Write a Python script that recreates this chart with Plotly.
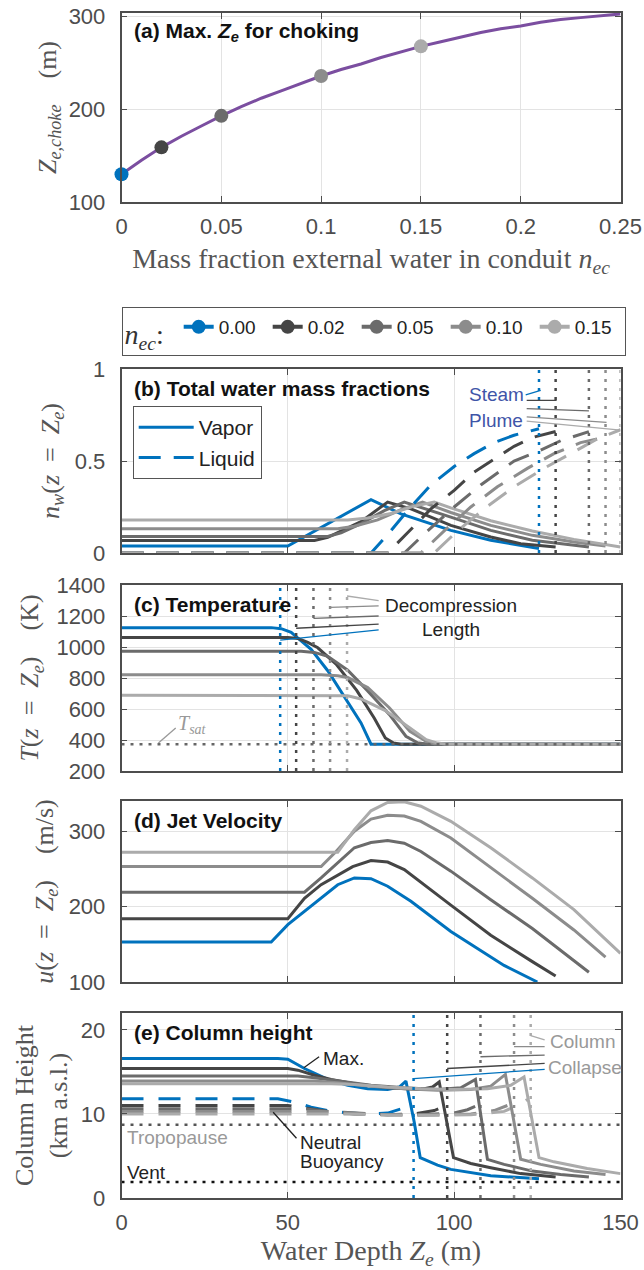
import plotly.graph_objects as go

W, H = 644, 1270

# ---------------- data ----------------
NEC = [0.00, 0.02, 0.05, 0.10, 0.15]
NEC_LABELS = ['0.00', '0.02', '0.05', '0.10', '0.15']
COLORS = ['#0072BD', '#454545', '#6b6b6b', '#8c8c8c', '#ababab']
PURPLE = '#7B4EA0'

# (a) max Ze for choking
CURVE_NEC = [0.00, 0.01, 0.02, 0.03, 0.04, 0.05, 0.06, 0.07, 0.08, 0.09, 0.10, 0.11, 0.12,
             0.13, 0.14, 0.15, 0.16, 0.17, 0.18, 0.19, 0.20, 0.21, 0.22, 0.23, 0.24, 0.25]
CURVE_Z = [130, 145, 159, 171, 182, 193, 203, 212, 220, 228, 236, 243, 249,
           256, 262, 268, 273, 278, 283, 287, 290, 294, 297, 299, 301, 303]
POINT_Z = [130, 159, 193, 236, 268]

# (b) water mass fractions
VAP_X = [[0, 50, 75, 84, 99, 111, 125.5],
         [0, 58, 62, 72, 80, 87, 99, 111, 120, 130.5],
         [0, 62, 66, 72, 79, 85, 99, 111, 123.5, 140.5],
         [0, 65, 70, 77, 84, 90.5, 99, 111, 123.5, 136, 145.5],
         [0, 68, 74, 81, 88, 94, 99, 111, 123.5, 136, 150]]
VAP_Y = [[0.038, 0.038, 0.29, 0.213, 0.123, 0.069, 0.024],
         [0.068, 0.068, 0.085, 0.17, 0.277, 0.24, 0.15, 0.087, 0.05, 0.033],
         [0.09, 0.09, 0.11, 0.16, 0.23, 0.277, 0.195, 0.123, 0.069, 0.033],
         [0.132, 0.132, 0.145, 0.18, 0.235, 0.277, 0.22, 0.15, 0.096, 0.06, 0.038],
         [0.18, 0.18, 0.19, 0.215, 0.255, 0.277, 0.245, 0.175, 0.12, 0.074, 0.033]]
LIQ_X = [[0, 75, 80, 86, 93, 100, 106, 112, 118, 125.5],
         [0, 80, 86, 93, 100, 106, 112, 118, 124, 130.5],
         [0, 85, 92, 100, 108, 118, 125, 132, 140.5],
         [0, 90, 97, 105, 113, 122, 130, 138, 145.5],
         [0, 94, 101, 109, 118, 127, 135, 143, 150]]
LIQ_Y = [[0, 0, 0.10, 0.23, 0.37, 0.47, 0.54, 0.60, 0.64, 0.675],
         [0, 0, 0.11, 0.24, 0.34, 0.44, 0.51, 0.58, 0.63, 0.66],
         [0, 0, 0.12, 0.25, 0.37, 0.50, 0.55, 0.61, 0.66],
         [0, 0, 0.12, 0.25, 0.36, 0.46, 0.54, 0.60, 0.63],
         [0, 0, 0.12, 0.24, 0.36, 0.46, 0.54, 0.62, 0.67]]
STEAM_X = [125.5, 130.5, 140.5, 145.5, 150]

# (c) temperature
T_X = [[0, 45, 48, 51, 54, 57, 62, 68, 72, 75, 150],
       [0, 50, 53, 56, 59, 64.5, 70.7, 76, 79.3, 81.8, 84, 150],
       [0, 54, 58, 62, 68, 74, 80.5, 85.5, 89, 92, 150],
       [0, 60, 65, 68, 74, 80.5, 86.7, 91.6, 94, 150],
       [0, 64, 68, 72, 79.3, 86.7, 91.6, 95, 98, 150]]
T_Y = [[1125, 1125, 1118, 1095, 1040, 985, 847, 640, 510, 373, 373],
       [1062, 1062, 1055, 1030, 995, 890, 720, 540, 413, 380, 373, 373],
       [973, 973, 965, 940, 850, 717, 565, 424, 382, 373, 373],
       [821, 821, 815, 803, 738, 608, 456, 391, 376, 373],
       [689, 689, 685, 665, 590, 478, 402, 380, 373, 373]]
T_SAT = 373
DECOMP_X = [47.7, 52.5, 57.7, 62.7, 67.8]

# (d) jet velocity
U_X = [[0, 45, 50, 55, 60, 65, 70, 75, 80, 87, 99, 115, 125],
       [0, 50, 55, 60, 69.5, 75, 80, 85, 99, 111, 123.5, 130.5],
       [0, 55, 60, 64.5, 70, 75, 80, 85, 90, 99, 111, 123.5, 140.5],
       [0, 60, 64.5, 70, 75, 80, 85, 90, 99, 111, 123.5, 136, 145.5],
       [0, 65, 70, 75, 80, 85, 90, 99, 111, 123.5, 136, 150]]
U_Y = [[153, 153, 176, 194, 212, 229, 238, 237, 227, 207, 167, 122, 100],
       [184, 184, 211, 229, 253, 261, 259, 249, 202, 162, 127, 108],
       [219, 219, 238, 256, 278, 285, 287.5, 284, 273, 247, 209, 171, 113],
       [253, 253, 273, 300, 316, 321, 320, 313, 291, 252, 211, 169, 133],
       [272, 272, 302, 327, 338, 339, 333, 313, 278, 238, 196, 138]]

# (e) column height
HMAX_X = [[0, 47, 50, 55, 62, 68, 74, 80, 83.5, 85.5, 88, 89.8, 95, 99, 111, 125.5],
          [0, 50, 53, 58, 63, 70, 80, 90, 93.5, 95.5, 99.8, 105, 111, 120, 130.5],
          [0, 53, 58, 65, 75, 85, 95, 102, 106.4, 110, 115, 123.5, 132, 140.5],
          [0, 58, 65, 75, 85, 95, 105, 111, 115.4, 120, 126, 136, 145.5],
          [0, 63, 70, 80, 90, 100, 110, 117, 121, 125.5, 130, 140, 150]]
HMAX_Y = [[16.6, 16.6, 16.5, 15.4, 14.1, 13.4, 13.0, 12.9, 13.2, 13.9, 9.0, 4.8, 3.9, 3.4, 2.65, 2.3],
          [15.4, 15.4, 15.2, 14.6, 14.1, 13.6, 13.1, 12.9, 13.2, 13.8, 4.8, 4.1, 3.6, 2.9, 2.5],
          [14.5, 14.5, 14.3, 13.9, 13.4, 13.1, 12.9, 13.1, 14.1, 4.6, 4.0, 3.2, 2.8, 2.5],
          [13.9, 13.9, 13.7, 13.3, 13.0, 12.8, 12.9, 13.3, 14.7, 4.6, 4.0, 3.2, 2.8],
          [13.6, 13.6, 13.5, 13.2, 13.0, 12.9, 13.0, 13.4, 14.4, 4.8, 4.3, 3.5, 2.9]]
HNB_X = [[0, 47, 52, 57, 62, 68, 75, 80, 84, 86],
         [0, 50, 55, 62, 70, 80, 88, 94, 97],
         [0, 55, 62, 70, 80, 90, 100, 104, 107],
         [0, 60, 68, 80, 95, 105, 112, 116],
         [0, 65, 75, 90, 105, 115, 119, 122]]
HNB_Y = [[11.8, 11.8, 11.4, 10.8, 10.4, 10.1, 10.0, 10.1, 10.6, 11.2],
         [11.0, 11.0, 10.7, 10.3, 10.0, 9.9, 10.0, 10.4, 10.9],
         [10.6, 10.6, 10.3, 10.1, 9.9, 9.9, 10.1, 10.5, 11.0],
         [10.3, 10.3, 10.1, 9.9, 9.9, 10.0, 10.4, 11.0],
         [10.0, 10.0, 9.9, 9.8, 9.9, 10.3, 11.0, 11.7]]
COLLAPSE_X = [87.8, 97.9, 107.9, 118, 123]
TROPOPAUSE = 8.7
VENT = 1.9

# ---------------- layout helpers ----------------
SANS = 'Liberation Sans, Arial, sans-serif'
SERIF = 'Liberation Serif, Times New Roman, serif'
AXC = '#4d4d4d'
TITC = '#555555'
XDOM = [121.5 / W, 620.5 / W]
NB = '\u00a0'


def ydom(top, bottom):
    return [1 - bottom / H, 1 - top / H]


def axis(**kw):
    d = dict(showline=True, linecolor=AXC, linewidth=1.5, mirror='ticks', ticks='inside',
             ticklen=6, tickwidth=1.3, tickcolor=AXC, showgrid=True, gridcolor='#e3e3e3',
             gridwidth=1, zeroline=False, automargin=False,
             tickfont=dict(family=SANS, size=22, color=AXC))
    d.update(kw)
    return d


def ytitle(text, standoff):
    return dict(text=text, standoff=standoff, font=dict(family=SERIF, size=26, color=TITC))


def xtitle(text, standoff):
    return dict(text=text, standoff=standoff, font=dict(family=SERIF, size=28, color=TITC))


fig = go.Figure()
DOT = '3px,6px'

# (a)
fig.add_trace(go.Scatter(x=CURVE_NEC, y=CURVE_Z, mode='lines', line=dict(color=PURPLE, width=3),
                         showlegend=False, xaxis='x', yaxis='y'))
for i in range(5):
    fig.add_trace(go.Scatter(x=[NEC[i]], y=[POINT_Z[i]], mode='lines+markers', name=NEC_LABELS[i],
                             marker=dict(color=COLORS[i], size=14), line=dict(color=COLORS[i], width=4),
                             legend='legend', xaxis='x', yaxis='y', cliponaxis=False))

# (b)
for i in range(5):
    fig.add_trace(go.Scatter(x=VAP_X[i], y=VAP_Y[i], mode='lines', line=dict(color=COLORS[i], width=3),
                             name='Vapor', legend='legend2', showlegend=(i == 0),
                             xaxis='x2', yaxis='y2'))
for i in range(5):
    fig.add_trace(go.Scatter(x=LIQ_X[i], y=LIQ_Y[i], mode='lines',
                             line=dict(color=COLORS[i], width=3, dash='22px,13px'),
                             name='Liquid', legend='legend2', showlegend=(i == 0),
                             xaxis='x2', yaxis='y2'))
for i in range(5):
    fig.add_trace(go.Scatter(x=[STEAM_X[i], STEAM_X[i]], y=[0, 1], mode='lines',
                             line=dict(color=COLORS[i], width=2.5, dash=DOT),
                             showlegend=False, xaxis='x2', yaxis='y2'))

# (c)
for i in range(5):
    fig.add_trace(go.Scatter(x=T_X[i], y=T_Y[i], mode='lines', line=dict(color=COLORS[i], width=3),
                             showlegend=False, xaxis='x3', yaxis='y3'))
fig.add_trace(go.Scatter(x=[0, 150], y=[T_SAT, T_SAT], mode='lines',
                         line=dict(color='#666666', width=2.5, dash=DOT),
                         showlegend=False, xaxis='x3', yaxis='y3'))
for i in range(5):
    fig.add_trace(go.Scatter(x=[DECOMP_X[i], DECOMP_X[i]], y=[200, 1400], mode='lines',
                             line=dict(color=COLORS[i], width=2.5, dash=DOT),
                             showlegend=False, xaxis='x3', yaxis='y3'))

# (d)
for i in range(5):
    fig.add_trace(go.Scatter(x=U_X[i], y=U_Y[i], mode='lines', line=dict(color=COLORS[i], width=3),
                             showlegend=False, xaxis='x4', yaxis='y4'))

# (e)
for i in range(5):
    fig.add_trace(go.Scatter(x=HNB_X[i], y=HNB_Y[i], mode='lines',
                             line=dict(color=COLORS[i], width=3, dash='22px,15px'),
                             showlegend=False, xaxis='x5', yaxis='y5'))
for i in range(5):
    fig.add_trace(go.Scatter(x=HMAX_X[i], y=HMAX_Y[i], mode='lines', line=dict(color=COLORS[i], width=3),
                             showlegend=False, xaxis='x5', yaxis='y5'))
fig.add_trace(go.Scatter(x=[0, 150], y=[TROPOPAUSE, TROPOPAUSE], mode='lines',
                         line=dict(color='#555555', width=2.5, dash=DOT),
                         showlegend=False, xaxis='x5', yaxis='y5'))
fig.add_trace(go.Scatter(x=[0, 150], y=[VENT, VENT], mode='lines',
                         line=dict(color='#111111', width=2.5, dash=DOT),
                         showlegend=False, xaxis='x5', yaxis='y5'))
for i in range(5):
    fig.add_trace(go.Scatter(x=[COLLAPSE_X[i], COLLAPSE_X[i]], y=[0, 22], mode='lines',
                             line=dict(color=COLORS[i], width=2.5, dash=DOT),
                             showlegend=False, xaxis='x5', yaxis='y5'))

# ---------------- axes ----------------
EQ = NB * 2 + '=' + NB * 2
ZE = '<i>Z<sub>e</sub></i>'
fig.update_layout(
    xaxis=axis(domain=XDOM, anchor='y', range=[0, 0.25], tickvals=[0, 0.05, 0.1, 0.15, 0.2, 0.25],
               ticklabelstandoff=4,
               title=xtitle('Mass fraction external water in conduit <i>n<sub>ec</sub></i>', 10)),
    yaxis=axis(domain=ydom(13, 202), anchor='x', range=[100, 304], tickvals=[100, 200, 300],
               ticklabelstandoff=10,
               title=ytitle('<i>Z<sub>e,choke</sub></i>' + NB * 4 + '(m)', 5)),
    xaxis2=axis(domain=XDOM, anchor='y2', range=[0, 150], tickvals=[0, 50, 100, 150], showticklabels=False),
    yaxis2=axis(domain=ydom(369, 553), anchor='x2', range=[0, 1], tickvals=[0, 0.5, 1],
                ticklabelstandoff=10,
                title=ytitle('<i>n<sub>w</sub></i>(<i>z</i>' + EQ + ZE + ')', 8)),
    xaxis3=axis(domain=XDOM, anchor='y3', range=[0, 150], tickvals=[0, 50, 100, 150], showticklabels=False),
    yaxis3=axis(domain=ydom(585, 771), anchor='x3', range=[200, 1400],
                tickvals=[200, 400, 600, 800, 1000, 1200, 1400], ticklabelstandoff=10,
                title=ytitle('<i>T</i>(<i>z</i>' + EQ + ZE + ')' + NB * 4 + '(K)', 10)),
    xaxis4=axis(domain=XDOM, anchor='y4', range=[0, 150], tickvals=[0, 50, 100, 150], showticklabels=False),
    yaxis4=axis(domain=ydom(801, 982), anchor='x4', range=[100, 340], tickvals=[100, 200, 300],
                ticklabelstandoff=10,
                title=ytitle('<i>u</i>(<i>z</i>' + EQ + ZE + ')' + NB * 4 + '(m/s)', 8)),
    xaxis5=axis(domain=XDOM, anchor='y5', range=[0, 150], tickvals=[0, 50, 100, 150],
                ticklabelstandoff=4,
                title=xtitle('Water Depth ' + ZE + ' (m)', 10)),
    yaxis5=axis(domain=ydom(1013, 1198), anchor='x5', range=[0, 22], tickvals=[0, 10, 20],
                ticklabelstandoff=10,
                title=ytitle('Column Height<br>(km a.s.l.)', 6)),
)

# ---------------- legends ----------------
fig.update_layout(
    legend=dict(orientation='h', x=121.5 / W, y=1 - 307 / H, xanchor='left', yanchor='top',
                bordercolor='#555555', borderwidth=1, bgcolor='white',
                font=dict(family=SANS, size=19, color='#222222'),
                title=dict(text='<i>n<sub>ec</sub></i>:' + NB, side='left',
                           font=dict(family=SERIF, size=28, color='#333333')),
                entrywidth=44, entrywidthmode='pixels', itemwidth=30, tracegroupgap=0),
    legend2=dict(x=132.7 / W, y=1 - 406 / H, xanchor='left', yanchor='top',
                 bordercolor='#555555', borderwidth=1, bgcolor='white',
                 font=dict(family=SANS, size=21, color='#222222'), itemwidth=55,
                 entrywidth=68, entrywidthmode='pixels', tracegroupgap=0),
)

# ---------------- annotations ----------------
ann = []
TITLES = ['(a) Max. <i>Z<sub>e</sub></i> for choking', '(b) Total water mass fractions',
          '(c) Temperature', '(d) Jet Velocity', '(e) Column height']
AX_IDS = ['', '2', '3', '4', '5']
for t, a in zip(TITLES, AX_IDS):
    ann.append(dict(text='<b>' + t + '</b>', xref='x%s domain' % a, yref='y%s domain' % a,
                    x=0.022, y=1, xanchor='left', yanchor='middle', yshift=-19, showarrow=False,
                    font=dict(family=SANS, size=21, color='#111111')))


def txt(s, x, y, ax, color='#222222', xanchor='left', size=19, family=SANS):
    ann.append(dict(text=s, x=x, y=y, xref='x' + ax, yref='y' + ax, xanchor=xanchor,
                    yanchor='middle', showarrow=False, font=dict(family=family, size=size, color=color)))


STEAM_C = '#3F55A8'
txt('Steam', 103.8, 0.86, '2', STEAM_C)
txt('Plume', 103.8, 0.72, '2', STEAM_C)
txt('Decompression', 78.6, 1271, '3')
txt('Length', 89.8, 1110, '3')
txt('<i>T<sub>sat</sub></i>', 16.4, 500, '3', '#999999', size=20, family=SERIF)
txt('Max.', 60, 16.6, '5')
txt('Neutral', 53.2, 6.6, '5')
txt('Buoyancy', 53.2, 4.4, '5')
txt('Tropopause', 1.2, 7.2, '5', '#999999')
txt('Vent', 1.2, 3.05, '5')
txt('Column', 128.2, 18.6, '5', '#999999')
txt('Collapse', 127.6, 15.5, '5', '#999999')
fig.update_layout(annotations=ann)

# leader lines
shapes = []


def seg(x0, y0, x1, y1, ax, color, w=1.3):
    shapes.append(dict(type='line', x0=x0, y0=y0, x1=x1, y1=y1, xref='x' + ax, yref='y' + ax,
                       line=dict(color=color, width=w)))


STEAM_LEADERS = [(121.5, 0.86, 126, 0.884), (121.8, 0.83, 130.8, 0.83), (121.8, 0.785, 140.5, 0.772),
                 (121.8, 0.74, 145.8, 0.71), (121.8, 0.717, 150, 0.668)]
for i, (a, b, c, d) in enumerate(STEAM_LEADERS):
    seg(a, b, c, d, '2', COLORS[i])
DECOMP_LEADERS = [(47.7, 1045, 77.3, 1110), (52.5, 1121, 77.3, 1148), (57.7, 1185, 77.3, 1200),
                  (62.7, 1256, 77.3, 1265), (67.8, 1329, 77.3, 1299)]
for i, (a, b, c, d) in enumerate(DECOMP_LEADERS):
    seg(a, b, c, d, '3', COLORS[i])
COLLAPSE_LEADERS = [(87.8, 14.2, 127.2, 15.3), (97.9, 15.4, 127.2, 16.0), (107.9, 16.8, 127.2, 17.0),
                    (118, 18.0, 127.2, 18.0), (123, 19.3, 127.2, 18.8)]
for i, (a, b, c, d) in enumerate(COLLAPSE_LEADERS):
    seg(a, b, c, d, '5', COLORS[i])
seg(11.1, 380, 16.3, 478, '3', '#999999')
seg(59.4, 16.8, 54.8, 15.5, '5', '#222222')
seg(52.6, 7.1, 45.6, 10.2, '5', '#222222')
fig.update_layout(shapes=shapes)

fig.update_layout(template='none', width=W, height=H,
                  margin=dict(l=0, r=0, t=0, b=0, pad=0, autoexpand=False),
                  paper_bgcolor='white', plot_bgcolor='white', autosize=False)

fig.write_html('out.html')
